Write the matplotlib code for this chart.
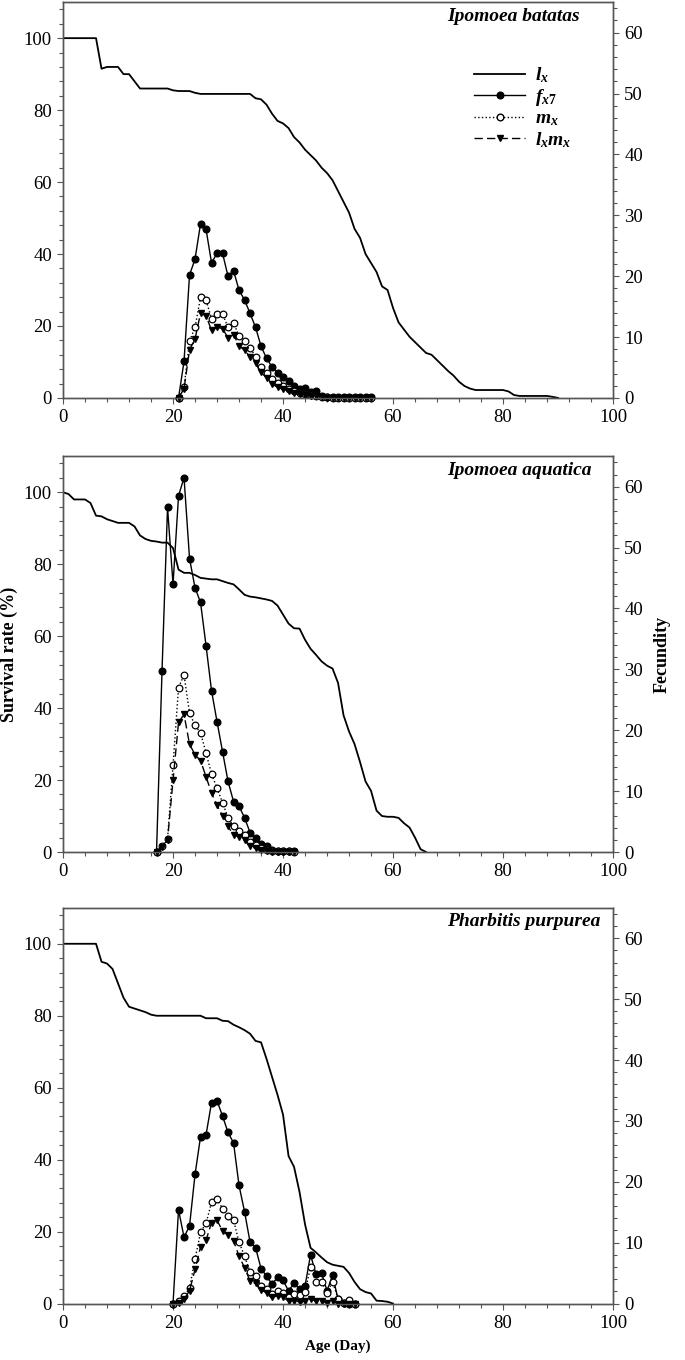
import numpy as np
import matplotlib
matplotlib.use('Agg')
import matplotlib.pyplot as plt
from matplotlib.ticker import MultipleLocator
from matplotlib.lines import Line2D

plt.rcParams['font.family'] = ['Liberation Serif', 'DejaVu Serif']
plt.rcParams['mathtext.fontset'] = 'custom'
plt.rcParams['mathtext.it'] = 'Liberation Serif:italic:bold'
plt.rcParams['mathtext.rm'] = 'Liberation Serif:bold'

# ---- Ipomoea batatas ----
lx1 = [100, 100, 100, 100, 100, 100, 100, 91.5, 92, 92, 92, 90, 90, 88, 86,
       86, 86, 86, 86, 86, 85.5, 85.3, 85.3, 85.3, 84.8, 84.5, 84.5, 84.5, 84.5, 84.5,
       84.5, 84.5, 84.5, 84.5, 84.5, 83.3, 83, 81.5, 79, 77, 76.3, 75, 72.5, 71, 69,
       67.5, 66, 64, 62.5, 60.5, 57.5, 54.5, 51.5, 47, 44.5, 40, 37.5, 35, 31, 30,
       25, 21, 19, 17, 15.5, 14, 12.5, 12, 10.5, 9, 7.5, 6.2, 4.5, 3.3, 2.6,
       2.2, 2.2, 2.2, 2.2, 2.2, 2.2, 1.8, 0.8, 0.55, 0.55, 0.55, 0.55, 0.55, 0.55, 0.3, 0]
age1 = list(range(21, 57))
fx1 = [0, 6.0, 20.2, 22.8, 28.6, 27.7, 22.2, 23.75, 23.75, 20.0, 20.9, 17.7, 16.1, 13.9,
       11.6, 8.5, 6.5, 5.1, 4.05, 3.5, 2.7, 1.9, 1.4, 1.6, 0.9, 1.1, 0.4, 0.2,
       0.1, 0.1, 0.1, 0.1, 0.1, 0.1, 0.1, 0.1]
mx1 = [0, 1.75, 9.3, 11.6, 16.5, 16.1, 13.0, 13.8, 13.8, 11.6, 12.3, 10.2, 9.4, 8.2,
       6.8, 5.0, 4.05, 3.1, 2.4, 2.0, 1.5, 1.1, 0.8, 0.65, 0.45, 0.35, 0.2, 0.1,
       0.05, 0.05, 0.05, 0.05, 0.05, 0.05, 0.05, 0.05]
lm1 = [0, 1.5, 7.9, 9.7, 13.9, 13.5, 11.1, 11.6, 11.4, 9.85, 10.4, 8.6, 7.8, 6.8,
       5.7, 4.2, 3.3, 2.3, 1.75, 1.5, 1.1, 0.8, 0.6, 0.5, 0.35, 0.3, 0.15, 0.05,
       0.03, 0.03, 0.03, 0.03, 0.03, 0.03, 0.03, 0.03]

# ---- Ipomoea aquatica ----
lx2 = [100, 99.5, 98, 98, 98, 97, 93.5, 93.3, 92.5, 92, 91.5, 91.5, 91.5, 90.5, 88,
       87, 86.5, 86.3, 86, 86, 84.5, 78.5, 77.6, 77.6, 77, 76.2, 76, 75.8, 75.8, 75.3,
       74.8, 74.4, 73, 71.5, 71, 70.8, 70.5, 70.2, 69.8, 68.5, 66, 63.5, 62.2, 62.1, 59,
       56.5, 54.8, 53, 51.8, 51, 47, 38, 33.5, 30, 25, 19.6, 17, 11.5, 10, 9.8,
       9.8, 9.5, 8, 6.8, 4, 0.8, 0]
age2 = list(range(17, 43))
fx2 = [0, 29.8, 56.6, 44.0, 58.5, 61.5, 48.2, 43.4, 41.0, 33.9, 26.5, 21.4, 16.5, 11.6,
       8.3, 7.5, 5.65, 3.2, 2.25, 1.25, 1.05, 0.3, 0.2, 0.2, 0.2, 0.1]
mx2 = [0, 1.0, 2.1, 14.3, 27.0, 29.1, 22.8, 20.8, 19.6, 16.3, 12.8, 10.5, 8.1, 5.65,
       4.2, 3.5, 2.8, 1.6, 1.15, 0.6, 0.3, 0.1, 0.1, 0.1, 0.1, 0.05]
lm2 = [0, 0.9, 2.0, 11.8, 21.3, 22.6, 17.7, 16.0, 15.0, 12.4, 9.65, 7.7, 5.9, 4.2,
       2.8, 2.5, 1.9, 1.05, 0.6, 0.35, 0.2, 0.05, 0.05, 0.05, 0.05, 0.03]

# ---- Pharbitis purpurea ----
lx3 = [100, 100, 100, 100, 100, 100, 100, 95, 94.5, 93, 89, 85, 82.5, 82, 81.5,
       81, 80.3, 80, 80, 80, 80, 80, 80, 80, 80, 80, 79.3, 79.3, 79.3, 78.6,
       78.5, 77.5, 76.8, 76, 75, 73, 72.6, 68, 63, 58, 52.5, 41, 38, 31, 22,
       15.5, 14.2, 12.8, 11.5, 10.8, 10.5, 10.2, 8.5, 6, 4, 3.2, 2.8, 0.8, 0.7, 0.5, 0]
age3 = list(range(20, 54))
fx3 = [0, 15.4, 10.9, 12.75, 21.2, 27.4, 27.7, 33.0, 33.3, 30.8, 28.1, 26.4, 19.4, 15.1,
       10.1, 9.2, 5.75, 4.5, 3.2, 4.3, 3.8, 2.1, 3.3, 2.35, 2.9, 8.0, 4.8, 5.0,
       2.1, 4.65, 0.7, 0.15, 0, 0]
mx3 = [0, 0.45, 1.25, 2.5, 7.3, 11.7, 13.2, 16.6, 17.1, 15.6, 14.3, 13.7, 10.1, 7.8,
       5.2, 4.5, 2.9, 2.35, 1.65, 2.1, 1.8, 1.0, 1.65, 1.35, 1.9, 6.0, 3.6, 3.6,
       1.8, 3.6, 0.8, 0.15, 0.55, 0]
lm3 = [0, 0.15, 0.7, 2.1, 5.6, 9.3, 10.4, 13.3, 13.7, 11.9, 11.3, 10.3, 7.8, 5.9,
       3.7, 3.3, 2.2, 1.8, 1.1, 1.25, 1.0, 0.45, 0.45, 0.3, 0.35, 0.8, 0.35, 0.35,
       0.15, 0.35, 0, 0, 0, 0]

species = ['Ipomoea batatas', 'Ipomoea aquatica', 'Pharbitis purpurea']
panels = [(lx1, age1, fx1, mx1, lm1), (lx2, age2, fx2, mx2, lm2), (lx3, age3, fx3, mx3, lm3)]
bottoms = [0.7074, 0.3735, 0.0415]

fig = plt.figure(figsize=(6.85, 13.6), dpi=100)
spine_col = '#555555'

for i, (lx, age, fx, mx, lm) in enumerate(panels):
    ax = fig.add_axes([0.092, bottoms[i], 0.803, 0.291])
    ax2 = ax.twinx()
    ax.plot(np.arange(len(lx)), lx, color='black', lw=1.3)
    ax2.plot(age, fx, color='black', lw=1.0, marker='o', ms=4.8, mfc='black', clip_on=False)
    ax2.plot(age, mx, color='black', lw=1.0, ls=':', marker='o', ms=4.8, mfc='white', mew=0.9, clip_on=False)
    ax2.plot(age, lm, color='black', lw=1.0, ls=(0, (6, 3)), marker='v', ms=5, mfc='black', clip_on=False)

    ax.set_xlim(0, 100)
    ax.set_ylim(0, 110)
    ax2.set_ylim(0, 65)
    ax.xaxis.set_major_locator(MultipleLocator(20))
    ax.xaxis.set_minor_locator(MultipleLocator(4))
    ax.set_yticks([0, 20, 40, 60, 80, 100])
    ax.yaxis.set_minor_locator(MultipleLocator(4))
    ax2.set_yticks([0, 10, 20, 30, 40, 50, 60])
    ax2.yaxis.set_minor_locator(MultipleLocator(2))
    for a in (ax, ax2):
        a.tick_params(which='major', direction='out', length=4, width=0.8, color=spine_col,
                      labelsize=13.5, pad=4)
        a.tick_params(which='minor', direction='out', length=3, width=0.8, color=spine_col)
        for s in a.spines.values():
            s.set_color(spine_col)
            s.set_linewidth(1.0)
    ax.tick_params(axis='x', which='both', top=False)
    ax.text(0.698, 0.965, species[i], transform=ax.transAxes, ha='left', va='center',
            fontsize=14, fontweight='bold', fontstyle='italic')

    if i == 0:
        handles = [
            Line2D([], [], color='black', lw=1.3),
            Line2D([], [], color='black', lw=1.0, marker='o', ms=4.8, mfc='black'),
            Line2D([], [], color='black', lw=1.0, ls=':', marker='o', ms=4.8, mfc='white'),
            Line2D([], [], color='black', lw=1.0, ls=(0, (6, 3)), marker='v', ms=5, mfc='black'),
        ]
        labels = [r'$l_x$', r'$f_{x7}$', r'$m_x$', r'$l_xm_x$']
        ax2.legend(handles, labels, loc='upper left', bbox_to_anchor=(0.73, 0.865),
                   frameon=False, fontsize=14, handlelength=2.6, labelspacing=0.1,
                   handletextpad=0.5, borderpad=0)
    if i == 1:
        ax.set_ylabel('Survival rate (%)', fontsize=13, fontweight='bold', labelpad=4)
        ax2.set_ylabel('Fecundity', fontsize=13, fontweight='bold', labelpad=8)
    if i == 2:
        ax.set_xlabel('Age (Day)', fontsize=11, fontweight='bold', labelpad=6)

fig.savefig('out.png', dpi=100)
